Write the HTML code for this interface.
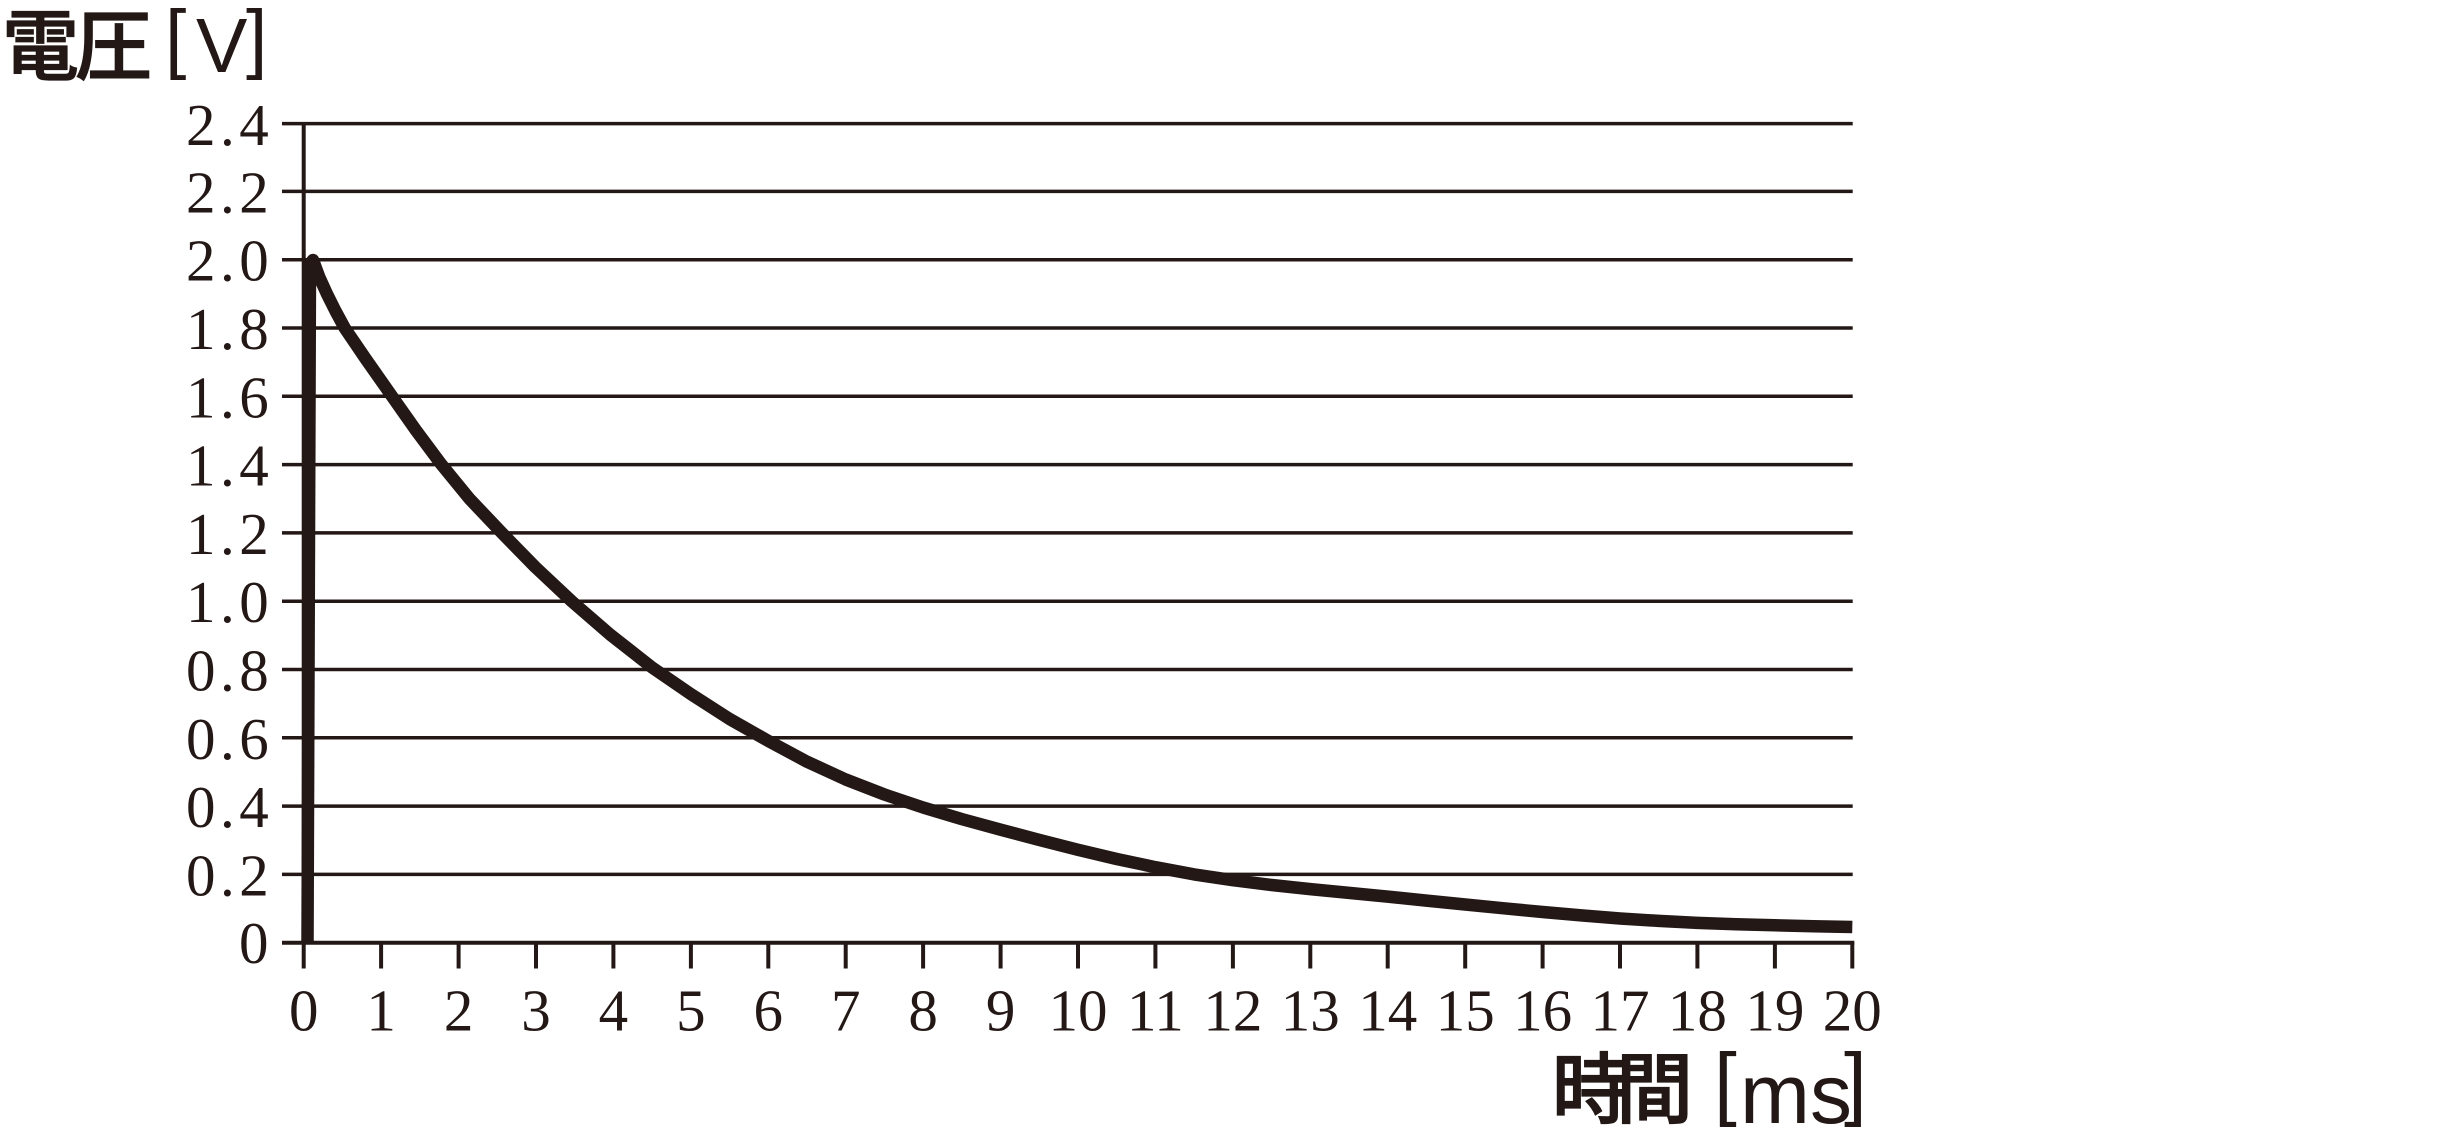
<!DOCTYPE html>
<html>
<head>
<meta charset="utf-8">
<style>
html,body{margin:0;padding:0;background:#fff;}
svg{display:block;}
.yl{font-family:"Liberation Serif",serif;font-size:59px;fill:#231815;letter-spacing:4.5px;}
.xl{font-family:"Liberation Serif",serif;font-size:59px;fill:#231815;}
.cjk{font-family:"Liberation Sans","Noto Sans CJK JP",sans-serif;font-weight:500;fill:#231815;stroke:#231815;stroke-width:1.2px;}
.lat{font-family:"Liberation Sans","Noto Sans CJK JP",sans-serif;fill:#231815;}
</style>
</head>
<body>
<svg width="2464" height="1132" viewBox="0 0 2464 1132" xmlns="http://www.w3.org/2000/svg">
<rect width="2464" height="1132" fill="#fff"/>
<g stroke="#231815" stroke-width="3.5" fill="none">
<line x1="282" y1="874.4" x2="1852.7" y2="874.4"/>
<line x1="282" y1="806.1" x2="1852.7" y2="806.1"/>
<line x1="282" y1="737.8" x2="1852.7" y2="737.8"/>
<line x1="282" y1="669.5" x2="1852.7" y2="669.5"/>
<line x1="282" y1="601.2" x2="1852.7" y2="601.2"/>
<line x1="282" y1="532.9" x2="1852.7" y2="532.9"/>
<line x1="282" y1="464.6" x2="1852.7" y2="464.6"/>
<line x1="282" y1="396.3" x2="1852.7" y2="396.3"/>
<line x1="282" y1="328.0" x2="1852.7" y2="328.0"/>
<line x1="282" y1="259.7" x2="1852.7" y2="259.7"/>
<line x1="282" y1="191.4" x2="1852.7" y2="191.4"/>
<line x1="282" y1="123.6" x2="1852.7" y2="123.6"/>
</g>
<g stroke="#231815" stroke-width="4" fill="none">
<line x1="303.7" y1="122" x2="303.7" y2="944"/>
<line x1="282" y1="942.7" x2="1854.3" y2="942.7"/>
<line x1="303.7" y1="942" x2="303.7" y2="968.5"/>
<line x1="381.1" y1="942" x2="381.1" y2="968.5"/>
<line x1="458.6" y1="942" x2="458.6" y2="968.5"/>
<line x1="536.0" y1="942" x2="536.0" y2="968.5"/>
<line x1="613.4" y1="942" x2="613.4" y2="968.5"/>
<line x1="690.9" y1="942" x2="690.9" y2="968.5"/>
<line x1="768.3" y1="942" x2="768.3" y2="968.5"/>
<line x1="845.7" y1="942" x2="845.7" y2="968.5"/>
<line x1="923.1" y1="942" x2="923.1" y2="968.5"/>
<line x1="1000.6" y1="942" x2="1000.6" y2="968.5"/>
<line x1="1078.0" y1="942" x2="1078.0" y2="968.5"/>
<line x1="1155.4" y1="942" x2="1155.4" y2="968.5"/>
<line x1="1232.9" y1="942" x2="1232.9" y2="968.5"/>
<line x1="1310.3" y1="942" x2="1310.3" y2="968.5"/>
<line x1="1387.7" y1="942" x2="1387.7" y2="968.5"/>
<line x1="1465.2" y1="942" x2="1465.2" y2="968.5"/>
<line x1="1542.6" y1="942" x2="1542.6" y2="968.5"/>
<line x1="1620.0" y1="942" x2="1620.0" y2="968.5"/>
<line x1="1697.4" y1="942" x2="1697.4" y2="968.5"/>
<line x1="1774.9" y1="942" x2="1774.9" y2="968.5"/>
<line x1="1852.3" y1="942" x2="1852.3" y2="968.5"/>
</g>
<path d="M307.5,944 L310,264 L313,260 L319.2,276.8 L326.9,293.8 L335.5,311 L344.7,328.0 L365.6,358.7 L392.0,396.3 L416,430.4 L441.5,464.6 L469.4,498.7 L501.9,532.9 L535.2,567.0 L571.6,601.2 L610.3,634.7 L652.1,667.5 L690.9,694.1 L729.6,719.0 L768.3,740.9 L807.0,761.7 L845.7,779.5 L884.4,794.5 L923.1,807.5 L961.9,819.1 L1000.6,829.7 L1039.3,839.9 L1078.0,849.8 L1116.7,859.0 L1155.4,867.2 L1194.1,874.4 L1232.9,880.2 L1271.6,885.0 L1310.3,889.1 L1349,892.9 L1387.7,896.6 L1426.5,900.6 L1465.2,904.5 L1503.9,908.3 L1542.6,912.0 L1581.3,915.4 L1620.0,918.5 L1658.7,920.9 L1697.4,922.9 L1736.2,924.3 L1774.9,925.3 L1813.6,926.2 L1852.3,927.0" fill="none" stroke="#231815" stroke-width="12.5" stroke-linejoin="round" stroke-linecap="butt"/>
<g class="yl">
<text x="186" y="145">2.4</text>
<text x="186" y="212.4">2.2</text>
<text x="186" y="280.7">2.0</text>
<text x="186" y="349">1.8</text>
<text x="186" y="417.3">1.6</text>
<text x="186" y="485.6">1.4</text>
<text x="186" y="553.9">1.2</text>
<text x="186" y="622.2">1.0</text>
<text x="186" y="690.5">0.8</text>
<text x="186" y="758.8">0.6</text>
<text x="186" y="827.1">0.4</text>
<text x="186" y="895.4">0.2</text>
<text x="239" y="963">0</text>
</g>
<g class="xl" text-anchor="middle">
<text x="303.7" y="1030.5">0</text>
<text x="381.1" y="1030.5">1</text>
<text x="458.6" y="1030.5">2</text>
<text x="536.0" y="1030.5">3</text>
<text x="613.4" y="1030.5">4</text>
<text x="690.9" y="1030.5">5</text>
<text x="768.3" y="1030.5">6</text>
<text x="845.7" y="1030.5">7</text>
<text x="923.1" y="1030.5">8</text>
<text x="1000.6" y="1030.5">9</text>
<text x="1078.0" y="1030.5">10</text>
<text x="1155.4" y="1030.5">11</text>
<text x="1232.9" y="1030.5">12</text>
<text x="1310.3" y="1030.5">13</text>
<text x="1387.7" y="1030.5">14</text>
<text x="1465.2" y="1030.5">15</text>
<text x="1542.6" y="1030.5">16</text>
<text x="1620.0" y="1030.5">17</text>
<text x="1697.4" y="1030.5">18</text>
<text x="1774.9" y="1030.5">19</text>
<text x="1852.3" y="1030.5">20</text>
</g>
<!-- Y axis title -->
<text class="cjk" x="2" y="74" font-size="77">電</text>
<text class="cjk" x="75" y="74" font-size="77">圧</text>
<text class="lat" x="165" y="64" font-size="77">[</text>
<text class="lat" x="196" y="72" font-size="77">V</text>
<text class="lat" x="246" y="64" font-size="77">]</text>
<!-- X axis title -->
<text class="cjk" x="1552" y="1117" font-size="77">時</text>
<text class="cjk" x="1616" y="1117" font-size="77">間</text>
<text class="lat" x="1714" y="1110" font-size="82">[</text>
<text class="lat" x="1740" y="1123" font-size="84">m</text>
<text class="lat" x="1810" y="1123" font-size="84">s</text>
<text class="lat" x="1844" y="1110" font-size="82">]</text>
</svg>
</body>
</html>
